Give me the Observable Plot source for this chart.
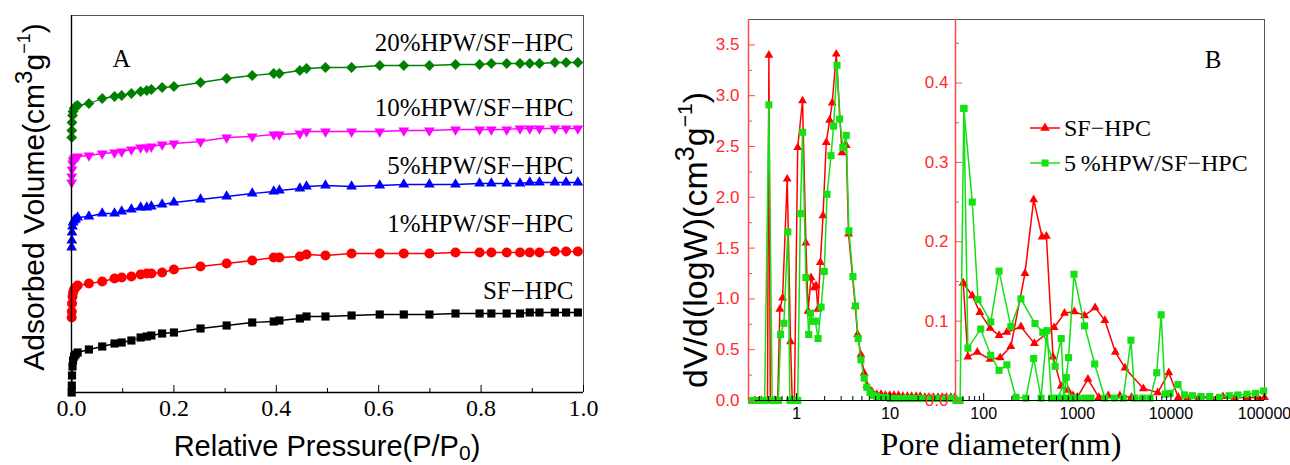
<!DOCTYPE html>
<html><head><meta charset="utf-8">
<script src="https://cdn.jsdelivr.net/npm/d3@7"></script>
<script src="https://cdn.jsdelivr.net/npm/@observablehq/plot@0.6"></script>
<style>
body{margin:0;background:#fff;}
#fig{position:relative;width:1290px;height:465px;overflow:hidden;background:#fff;}
</style></head>
<body><div id="fig"></div>
<script>
// ================= DATA: panel A (N2 isotherms, stacked) =================
const pressure = [0.0003,0.0006,0.001,0.002,0.003,0.005,0.008,0.012,
  0.034,0.060,0.084,0.098,0.117,0.135,0.147,0.156,0.177,0.200,0.252,0.303,0.353,0.395,0.406,0.446,0.459,0.496,
  0.547,0.602,0.649,0.699,0.750,0.797,0.820,0.850,0.876,0.895,0.914,0.944,0.966,0.989];
const volSF = [0,14,34,52,64,72,76,80,
  86,92,98,100,104,110,112,114,118,120,128,134,140,142,144,148,152,152,
  154,156,156,156,158,158,158,158,158,160,160,160,160,160];
const vol1 = [150,162,178,192,200,206,210,214,
  218,222,228,230,232,236,238,238,240,246,252,258,264,270,270,272,276,274,
  278,278,278,278,280,280,280,280,280,280,280,282,282,282];
const vol5 = [290,304,320,332,340,344,346,350,
  352,358,358,362,366,370,370,372,376,380,386,392,398,402,404,408,412,414,
  412,414,416,416,416,418,418,418,418,420,420,420,420,420];
const vol10 = [420,432,446,458,464,468,470,472,
  474,478,480,482,486,490,490,492,496,498,502,510,512,516,516,518,522,522,
  522,522,524,524,526,526,526,526,528,528,528,528,528,528];
const vol20 = [510,524,540,554,562,568,572,574,
  578,588,592,594,598,602,604,606,610,612,620,628,634,638,638,644,648,650,
  650,654,654,654,656,656,658,658,658,658,658,660,660,660];
const namesA = ["SF−HPC","1%HPW/SF−HPC","5%HPW/SF−HPC","10%HPW/SF−HPC","20%HPW/SF−HPC"];
const ticksA = [0,0.2,0.4,0.6,0.8,1.0];
const minorTicksA = [0.1,0.3,0.5,0.7,0.9];

// ================= DATA: panel B (pore size distribution) =================
// micro/meso part (left y axis)
const poreL_SF = [0.36,0.42,0.49,0.507,0.525,0.58,0.63,0.664,0.71,0.796,0.863,0.90,0.95,1.03,1.16,1.26,1.33,1.43,1.55,1.62,
  1.69,1.80,1.92,2.08,2.26,2.41,2.66,3.06,3.40,3.60,4.24,4.49,4.88,5.29,5.64,6.38,7.2,8.0,8.9,9.9,
  11,12.3,13.7,15.3,17,19,21,23.5,26,29,32.5,36,40,44.5,49];
const dvL_SF = [0,0,0,3.40,0,0,0,0.90,1.01,2.18,0.58,0,0,2.49,2.95,1.55,0.88,1.21,1.11,1.13,
  0.90,1.36,1.82,2.54,2.76,2.93,3.41,2.44,2.51,1.64,0.93,0.65,0.45,0.27,0.15,0.09,0.06,0.06,0.05,0.05,
  0.05,0.05,0.04,0.04,0.04,0.04,0.04,0.03,0.03,0.03,0.03,0.03,0.03,0.03,0.03];
const poreL_5 = [0.33,0.38,0.43,0.457,0.507,0.55,0.59,0.64,0.676,0.733,0.808,0.85,0.92,0.98,1.03,1.10,1.16,1.26,1.35,1.41,
  1.47,1.59,1.70,1.83,1.98,2.12,2.34,2.49,2.71,2.89,3.13,3.40,3.63,4.01,4.28,4.56,4.88,5.29,5.64,6.1,
  6.6,7.2,8.0,9.0,10,11.2,12.5,14,15.7,17.5,19.6,22,24.6,27.5,30.8,34.5,38.6,43,48];
const dvL_5 = [0,0,0,0,2.91,0,0,0,0.65,0.76,1.66,0,0,0,0,1.84,2.64,1.21,0.65,0.86,
  0.78,0.78,0.61,0.92,1.27,2.03,2.41,2.70,3.30,2.77,2.49,2.61,1.67,1.22,0.93,0.61,0.40,0.22,0.13,0.08,
  0.05,0.04,0.03,0.03,0.02,0.02,0.02,0.02,0.02,0.02,0.02,0.02,0.02,0.02,0.02,0.02,0.02,0.02,0.02];
// macro part (right y axis), two branches per sample
const poreR_SF_a = [60.5,75.5,91,117,146,177,250,348,566,730,930,1197,1550,1970,2550,3230,5080,7240,9500,12000,15000,20000,27000,36000,48000,65000,85000,100000];
const dvR_SF_a = [0.148,0.132,0.111,0.091,0.082,0.086,0.093,0.072,0.092,0.110,0.112,0.107,0.117,0.101,0.061,0.041,0.015,0.010,0.035,0.004,0.003,0.004,0.003,0.005,0.003,0.004,0.003,0.004];
const poreR_SF_b = [60.5,67.8,85.5,117,150,195,276,342,421,468,550,673,794,900,1000,1300,1700,2140,2850,3800];
const dvR_SF_b = [0.148,0.055,0.061,0.052,0.054,0.068,0.160,0.253,0.206,0.207,0.055,0.018,0.013,0.006,0.004,0.027,0.004,0.006,0.006,0.004];
const poreR_5_a = [50.5,53,56,61.4,75.5,87,119,146,195,250,353,428,580,673,720,807,922,1197,1535,1970,2500,3100,3740,4130,5000,6000,7060,7870,8690,9800,11900,14000,17000,21000,26000,33000,42000,52000,65000,80000,98000];
const dvR_5_a = [0,0,0,0.368,0.250,0.127,0.099,0.163,0.093,0.128,0.097,0.086,0.043,0.078,0.003,0.054,0.159,0.094,0.046,0.003,0.003,0.003,0.076,0.003,0.003,0.003,0.035,0.108,0.008,0.009,0.020,0.007,0.006,0.005,0.005,0.004,0.006,0.007,0.008,0.009,0.012];
const poreR_5_b = [61.4,67.8,93,119,146,177,221,282,342,410,475,530,620,762,830,890,1000,1200,1400];
const dvR_5_b = [0.368,0.066,0.090,0.057,0.038,0.045,0.004,0.003,0.053,0.003,0.088,0.003,0.003,0.029,0.003,0.003,0.003,0.003,0.003];
const namesB = ["SF−HPC","5\u2009%HPW/SF−HPC"];
const xTicksL = [1,10];
const xMinorL = [0.4,0.5,0.6,0.7,0.8,0.9,2,3,4,5,6,7,8,9,20,30,40];
const xTicksR = [100,1000,10000,100000];
const xMinorR = [60,70,80,90,200,300,400,500,600,700,800,900,2000,3000,4000,5000,6000,7000,8000,9000,20000,30000,40000,50000,60000,70000,80000,90000];
const yTicksL = [0,0.5,1.0,1.5,2.0,2.5,3.0,3.5];
const yMinorL = [0.25,0.75,1.25,1.75,2.25,2.75,3.25];
const yTicksR = [0,0.1,0.2,0.3,0.4];
const yMinorR = [0.05,0.15,0.25,0.35,0.45];

// ================= RENDER =================
const SERIF = "'Liberation Serif','Times New Roman',serif";
const SANS = "'Liberation Sans',Arial,sans-serif";
const fig = document.getElementById("fig");
function place(svg, left){ svg.style.position="absolute"; svg.style.left=left+"px"; svg.style.top="0px"; fig.appendChild(svg); }

const styleA = [
  {vals: volSF, color:"#000000", symbol:"square", r:4.6, rotate:0},
  {vals: vol1, color:"#ff0000", symbol:"circle", r:5.0, rotate:0},
  {vals: vol5, color:"#0000ff", symbol:"triangle", r:4.0, rotate:0},
  {vals: vol10, color:"#ff00ff", symbol:"triangle", r:4.0, rotate:180},
  {vals: vol20, color:"#008000", symbol:"diamond2", r:4.9, rotate:0}
];
const labelLayoutA = [204, 338, 454, 570, 700];

const marksA = [];
styleA.forEach((s, k) => {
  const rows = pressure.map((p, i) => ({p, v: s.vals[i], name: namesA[k]}));
  marksA.push(Plot.line(rows, {x:"p", y:"v", stroke:s.color, strokeWidth:1.3}));
  marksA.push(Plot.dot(rows, {x:"p", y:"v", fill:s.color, symbol:s.symbol, r:s.r, rotate:s.rotate}));
});
const plotA = Plot.plot({
  width: 600, height: 465,
  marginLeft: 71, marginRight: 17, marginTop: 15, marginBottom: 73,
  style: {background:"none", overflow:"visible", fontFamily: SERIF},
  x: {domain:[0,1], label:null},
  y: {domain:[0,754], axis:null, label:null},
  marks: [
    Plot.ruleY([754], {stroke:"#555"}),
    Plot.ruleX([1], {stroke:"#555"}),
    ...marksA,
    Plot.ruleX([0], {stroke:"#000", strokeWidth:1.4}),
    Plot.ruleY([0], {stroke:"#000", strokeWidth:1.4}),
    Plot.axisX(ticksA, {label:null, tickSize:-7, tickPadding:13, tickFormat:d=>d.toFixed(1), fontSize:24, fill:"#000", stroke:"#000"}),
    Plot.axisX(minorTicksA, {label:null, tickSize:-4, tickFormat:()=>"", stroke:"#000"}),
    Plot.text(namesA.map((n,i)=>({n, y: labelLayoutA[i]})), {x:()=>1, y:"y", text:"n", textAnchor:"end", dx:-10, fontSize:25, fill:"#000"}),
    Plot.text(["A"], {frameAnchor:"top-left", dx:41, dy:34, fontSize:25, fill:"#000"})
  ]
});
place(plotA, 0);

const RED = "#ff0000", GREEN = "#14e014", AXRED = "#ff4a4a", LBLRED = "#ff2a2a";
const zip = (xs, ys, b) => xs.map((x, i) => ({x, y: ys[i], b}));

const rowsL_SF = zip(poreL_SF, dvL_SF, "a");
const rowsL_5 = zip(poreL_5, dvL_5, "a");
const plotBL = Plot.plot({
  width: 280, height: 465,
  marginLeft: 68, marginRight: 5, marginTop: 19, marginBottom: 65,
  style: {background:"none", overflow:"visible", fontFamily: SANS},
  x: {type:"log", domain:[0.307, 50], label:null},
  y: {domain:[0, 3.75], label:null},
  marks: [
    Plot.ruleY([3.75], {stroke:"#555"}),
    Plot.line(rowsL_SF, {x:"x", y:"y", stroke:RED, strokeWidth:1.5}),
    Plot.dot(rowsL_SF, {x:"x", y:"y", fill:RED, symbol:"triangle", r:3.3}),
    Plot.line(rowsL_5, {x:"x", y:"y", stroke:GREEN, strokeWidth:1.5}),
    Plot.dot(rowsL_5, {x:"x", y:"y", fill:GREEN, symbol:"square", r:4.0}),
    Plot.ruleY([0], {stroke:"#000"}),
    Plot.ruleX([0.307], {stroke:AXRED, strokeWidth:1.5}),
    Plot.axisY(yTicksL, {label:null, tickSize:-7, tickPadding:16, tickFormat:d=>d.toFixed(1), fontSize:17, fill:LBLRED, stroke:AXRED}),
    Plot.axisY(yMinorL, {label:null, tickSize:-4, tickFormat:()=>"", stroke:AXRED}),
    Plot.axisX(xTicksL, {label:null, tickSize:-7, tickPadding:14, tickFormat:d=>String(d), fontSize:16.5, fill:"#000", stroke:"#000"}),
    Plot.axisX(xMinorL, {label:null, tickSize:-4, tickFormat:()=>"", stroke:"#000"})
  ]
});
place(plotBL, 680);

const rowsR_SF = [...zip(poreR_SF_a, dvR_SF_a, "a"), ...zip(poreR_SF_b, dvR_SF_b, "b")];
const rowsR_5 = [...zip(poreR_5_a, dvR_5_a, "a"), ...zip(poreR_5_b, dvR_5_b, "b")];
const plotBR = Plot.plot({
  width: 400, height: 465,
  marginLeft: 65, marginRight: 26, marginTop: 19, marginBottom: 65,
  style: {background:"none", overflow:"visible", fontFamily: SANS},
  x: {type:"log", domain:[50, 100000], label:null},
  y: {domain:[0, 0.48], label:null},
  marks: [
    Plot.ruleY([0.48], {stroke:"#555"}),
    Plot.ruleX([100000], {stroke:"#555"}),
    Plot.line(rowsR_SF, {x:"x", y:"y", z:"b", stroke:RED, strokeWidth:1.5}),
    Plot.dot(rowsR_SF, {x:"x", y:"y", fill:RED, symbol:"triangle", r:3.3}),
    Plot.line(rowsR_5, {x:"x", y:"y", z:"b", stroke:GREEN, strokeWidth:1.5}),
    Plot.dot(rowsR_5, {x:"x", y:"y", fill:GREEN, symbol:"square", r:4.0}),
    Plot.ruleY([0], {stroke:"#000"}),
    Plot.ruleX([50], {stroke:AXRED, strokeWidth:1.5}),
    Plot.axisY(yTicksR, {label:null, tickSize:-7, tickPadding:14, tickFormat:d=>d.toFixed(1), fontSize:17, fill:LBLRED, stroke:AXRED}),
    Plot.axisY(yMinorR, {label:null, tickSize:-4, tickFormat:()=>"", stroke:AXRED}),
    Plot.axisX(xTicksR, {label:null, tickSize:-7, tickPadding:14, tickFormat:d=>String(d), fontSize:16, fill:"#000", stroke:"#000"}),
    Plot.axisX(xMinorR, {label:null, tickSize:-4, tickFormat:()=>"", stroke:"#000"}),
    Plot.text(["B"], {frameAnchor:"top-right", dx:-43, dy:31, fontSize:25, fontFamily:SERIF, fill:"#000"})
  ]
});
place(plotBR, 890);

// ---------- axis titles and legend (overlay) ----------
const ov = d3.create("svg").attr("width",1290).attr("height",465)
  .style("position","absolute").style("left","0px").style("top","0px").style("pointer-events","none");

function supTitle(g, parts){
  parts.forEach(p => {
    const t = g.append("tspan").text(p.t);
    if (p.dy) t.attr("dy", p.dy);
    if (p.fs) t.attr("font-size", p.fs);
  });
}
const tA = ov.append("text").attr("transform","translate(44,197) rotate(-90)")
  .attr("text-anchor","middle").attr("font-family",SANS).attr("font-size",30).attr("fill","#000");
supTitle(tA, [{t:"Adsorbed Volume(cm"},{t:"3",dy:-12,fs:24},{t:"g",dy:12},{t:"−1",dy:-14,fs:18},{t:")",dy:14}]);

const tx = ov.append("text").attr("x",327).attr("y",456).attr("text-anchor","middle")
  .attr("font-family",SANS).attr("font-size",29).attr("fill","#000");
supTitle(tx, [{t:"Relative Pressure(P/P"},{t:"0",dy:4,fs:21},{t:")",dy:-4}]);

const tB = ov.append("text").attr("transform","translate(707,240) rotate(-90)")
  .attr("text-anchor","middle").attr("font-family",SANS).attr("font-size",34).attr("fill","#000");
supTitle(tB, [{t:"dV/d(logW)(cm"},{t:"3",dy:-13,fs:27},{t:"g",dy:13},{t:"−1",dy:-15,fs:21},{t:")",dy:15}]);

ov.append("text").attr("x",1001).attr("y",455).attr("text-anchor","middle")
  .attr("font-family",SERIF).attr("font-size",32).attr("fill","#000").text("Pore diameter(nm)");

// legend
const legend = [
  {name: namesB[0], color: RED, sym: d3.symbolTriangle, size: 40, y: 128},
  {name: namesB[1], color: GREEN, sym: d3.symbolSquare, size: 50, y: 163}
];
legend.forEach(l => {
  ov.append("line").attr("x1",1030).attr("x2",1060).attr("y1",l.y).attr("y2",l.y)
    .attr("stroke",l.color).attr("stroke-width",1.5);
  ov.append("path").attr("d", d3.symbol(l.sym, l.size)()).attr("transform",`translate(1045,${l.y})`).attr("fill",l.color);
  ov.append("text").attr("x",1064).attr("y",l.y).attr("dy","0.35em")
    .attr("font-family",SERIF).attr("font-size",24).attr("fill","#000").text(l.name);
});
fig.appendChild(ov.node());
</script>
</body></html>
